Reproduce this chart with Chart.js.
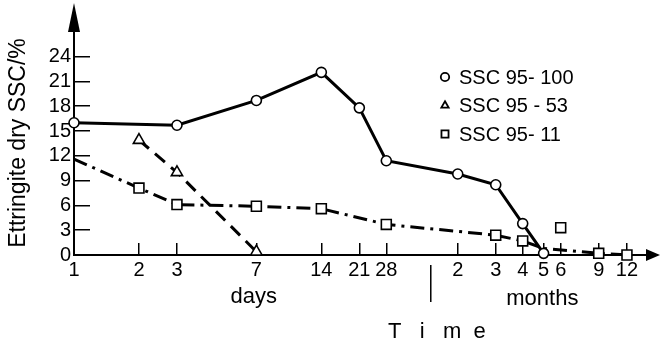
<!DOCTYPE html>
<html>
<head>
<meta charset="utf-8">
<script src="https://cdn.jsdelivr.net/npm/chart.js@4.4.0/dist/chart.umd.min.js"></script>
<style>
   html, body { margin: 0; padding: 0; background: #fff; }
   #wrap { position: relative; width: 661px; height: 348px; }
</style>
</head>
<body>
<div id="wrap"><canvas id="ettringite_chart" width="661" height="348"></canvas></div>
<script>
// time axis, in days (log scale), labels split into days / months
var tickDays = [1, 2, 3, 7, 14, 21, 28, 60, 90, 120, 150, 180, 270, 365];
var tickLabels = ['1', '2', '3', '7', '14', '21', '28', '2', '3', '4', '5', '6', '9', '12'];
var yTicks = [0, 3, 6, 9, 12, 15, 18, 21, 24];

// SSC 95-100
var ssc100Days = [1, 3, 7, 14, 21, 28, 60, 90, 120, 150];
var ssc100Vals = [16.0, 15.7, 18.7, 22.1, 17.8, 11.4, 9.8, 8.5, 3.8, 0.2];

// SSC 95-53
var ssc53Days = [2, 3, 7];
var ssc53Vals = [13.9, 10.0, 0.4];

// SSC 95-11 (line), no marker at 1 day and 5 months
var ssc11Days = [1, 2, 3, 7, 14, 28, 90, 120, 150, 270, 365];
var ssc11Vals = [11.6, 8.1, 6.1, 5.9, 5.6, 3.7, 2.4, 1.7, 0.8, 0.2, 0];
var ssc11NoMark = [1, 150];
// SSC 95-11 single point off the line (6 months)
var ssc11OutDays = [180];
var ssc11OutVals = [3.3];

var legendNames = ['SSC 95- 100', 'SSC 95 - 53', 'SSC 95- 11'];
var legendStyles = ['circle', 'triangle', 'rect'];

var FONT = "'Liberation Sans', Arial, sans-serif";

function toPoints(xs, ys) {
   return xs.map(function (x, i) { return {x: x, y: ys[i]}; });
}

var decor = {
   id: 'decor',
   afterDraw: function (chart) {
      var ctx = chart.ctx;
      var area = chart.chartArea;
      var xs = chart.scales.x;
      ctx.save();
      ctx.fillStyle = '#000';
      ctx.strokeStyle = '#000';

      // arrow heads
      ctx.beginPath();
      ctx.moveTo(area.left, 3);
      ctx.lineTo(area.left - 6, area.top + 1);
      ctx.lineTo(area.left + 6, area.top + 1);
      ctx.closePath();
      ctx.fill();
      ctx.beginPath();
      ctx.moveTo(chart.width - 1, area.bottom);
      ctx.lineTo(area.right - 1, area.bottom - 6);
      ctx.lineTo(area.right - 1, area.bottom + 6);
      ctx.closePath();
      ctx.fill();

      // days | months
      var sep = xs.getPixelForValue(45);
      ctx.lineWidth = 1.5;
      ctx.beginPath();
      ctx.moveTo(sep, area.bottom + 10);
      ctx.lineTo(sep, area.bottom + 47);
      ctx.stroke();

      ctx.font = '22px ' + FONT;
      ctx.textAlign = 'center';
      ctx.textBaseline = 'middle';
      ctx.fillText('days', xs.getPixelForValue(6.8), area.bottom + 42);
      ctx.fillText('months', xs.getPixelForValue(148), area.bottom + 44);
      ctx.fillText('T   i   m  e', xs.getPixelForValue(48), area.bottom + 77);

      // legend
      ctx.font = '20px ' + FONT;
      ctx.textAlign = 'left';
      for (var i = 0; i < legendNames.length; i++) {
         var ly = 77 + i * 28.5;
         ctx.fillStyle = '#fff';
         ctx.lineWidth = 1.8;
         Chart.helpers.drawPoint(ctx, {
            pointStyle: legendStyles[i],
            radius: legendStyles[i] === 'rect' ? 5 : 4.2,
            rotation: 0,
            borderWidth: 1.8
         }, 445, ly);
         ctx.fillStyle = '#000';
         ctx.fillText(legendNames[i], 459, ly + 1);
      }
      ctx.restore();
   }
};

var ctx = document.getElementById('ettringite_chart').getContext('2d');
var ettringite_chart = new Chart(ctx, {
   type: 'line',
   data: {
      datasets: [
         {
            label: legendNames[0],
            data: toPoints(ssc100Days, ssc100Vals),
            borderColor: '#000',
            backgroundColor: '#fff',
            borderWidth: 3,
            pointStyle: 'circle',
            pointRadius: 5,
            pointBorderWidth: 1.6,
            pointBorderColor: '#000',
            pointBackgroundColor: '#fff',
            clip: false
         },
         {
            label: legendNames[1],
            data: toPoints(ssc53Days, ssc53Vals),
            borderColor: '#000',
            backgroundColor: '#fff',
            borderWidth: 3,
            borderDash: [13, 8],
            pointStyle: 'triangle',
            pointRadius: 6.5,
            pointBorderWidth: 1.6,
            pointBorderColor: '#000',
            pointBackgroundColor: '#fff',
            clip: false
         },
         {
            label: legendNames[2],
            data: toPoints(ssc11Days, ssc11Vals),
            borderColor: '#000',
            backgroundColor: '#fff',
            borderWidth: 3,
            borderDash: [14, 6, 3, 6],
            pointStyle: 'rect',
            pointRadius: function (c) {
               return ssc11NoMark.indexOf(c.raw.x) >= 0 ? 0 : 7;
            },
            pointBorderWidth: 1.6,
            pointBorderColor: '#000',
            pointBackgroundColor: '#fff',
            clip: false
         },
         {
            label: legendNames[2],
            data: toPoints(ssc11OutDays, ssc11OutVals),
            showLine: false,
            pointStyle: 'rect',
            pointRadius: 7,
            pointBorderWidth: 1.6,
            pointBorderColor: '#000',
            pointBackgroundColor: '#fff',
            clip: false
         }
      ]
   },
   options: {
      responsive: false,
      animation: false,
      layout: { padding: { top: 20, right: 14, left: 0, bottom: 0 } },
      plugins: {
         legend: { display: false },
         tooltip: { enabled: false }
      },
      scales: {
         x: {
            type: 'logarithmic',
            min: 1,
            max: 452,
            afterBuildTicks: function (s) {
               s.ticks = tickDays.map(function (v) { return {value: v}; });
            },
            afterFit: function (s) { s.height = 93; },
            ticks: {
               autoSkip: false,
               maxRotation: 0,
               padding: 15,
               color: '#000',
               font: { family: FONT, size: 20 },
               callback: function (value) {
                  var i = tickDays.indexOf(value);
                  return i >= 0 ? tickLabels[i] : '';
               }
            },
            grid: {
               drawOnChartArea: false,
               drawTicks: true,
               tickLength: -12,
               color: '#000',
               lineWidth: 1.5
            },
            border: { display: true, color: '#000', width: 2 }
         },
         y: {
            min: 0,
            max: 27.1,
            afterBuildTicks: function (s) {
               s.ticks = yTicks.map(function (v) { return {value: v}; });
            },
            afterFit: function (s) { s.width = 74; },
            ticks: {
               padding: 19,
               color: '#000',
               font: { family: FONT, size: 20 }
            },
            grid: {
               drawOnChartArea: false,
               drawTicks: true,
               tickLength: -16,
               color: '#000',
               lineWidth: 1.5
            },
            border: { display: true, color: '#000', width: 2 },
            title: {
               display: true,
               text: 'Ettringite dry SSC/%',
               color: '#000',
               font: { family: FONT, size: 23 },
               padding: { top: 5, bottom: 0 }
            }
         }
      }
   },
   plugins: [decor]
});
</script>
</body>
</html>
